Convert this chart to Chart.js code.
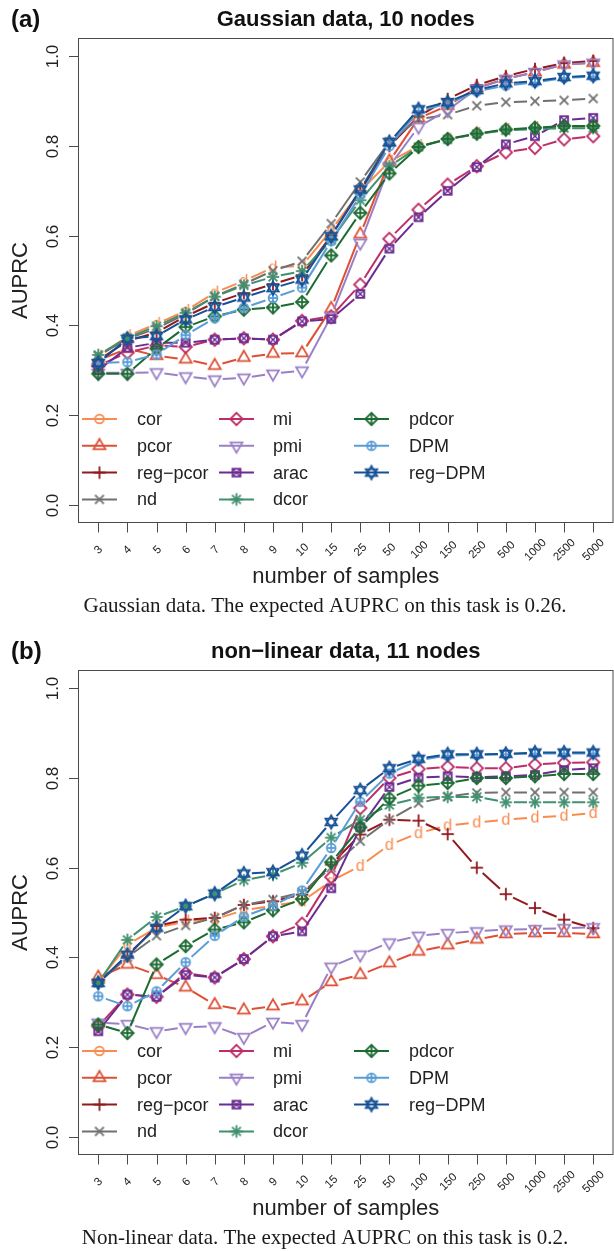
<!DOCTYPE html>
<html>
<head>
<meta charset="utf-8">
<script src="https://cdn.jsdelivr.net/npm/chart.js@4.4.1/dist/chart.umd.min.js"></script>
<style>
  html, body { margin: 0; padding: 0; background: #fff; overflow: hidden; width: 614px; height: 1251px; }
  .panel { position: absolute; left: 0; width: 620px; }
</style>
</head>
<body>
<div class="panel" style="top:0;height:632px"><canvas id="chartA" width="620" height="632"></canvas></div>
<div class="panel" style="top:632px;height:619px"><canvas id="chartB" width="620" height="619"></canvas></div>
<script>
// x categories and axis ticks
const sampleSizes = ['3', '4', '5', '6', '7', '8', '9', '10', '15', '25', '50', '100', '150', '250', '500', '1000', '2500', '5000'];
const yTicks = [0, 0.2, 0.4, 0.6, 0.8, 1.0];
const methods = ['cor', 'pcor', 'reg\u2212pcor', 'nd', 'mi', 'pmi', 'arac', 'dcor', 'pdcor', 'DPM', 'reg\u2212DPM'];

// (a) Gaussian data, 10 nodes
const gaussCor    = [0.330, 0.376, 0.403, 0.432, 0.473, 0.499, 0.529, 0.533, 0.612, 0.700, 0.765, 0.800, 0.815, 0.827, 0.836, 0.840, 0.843, 0.843];
const gaussPcor   = [0.322, 0.348, 0.332, 0.324, 0.310, 0.328, 0.337, 0.338, 0.437, 0.603, 0.766, 0.862, 0.890, 0.930, 0.950, 0.965, 0.982, 0.986];
const gaussRegPcor= [0.322, 0.365, 0.384, 0.420, 0.450, 0.472, 0.492, 0.512, 0.600, 0.700, 0.800, 0.866, 0.905, 0.936, 0.956, 0.972, 0.985, 0.990];
const gaussNd     = [0.332, 0.370, 0.393, 0.425, 0.465, 0.492, 0.522, 0.543, 0.627, 0.720, 0.810, 0.860, 0.870, 0.890, 0.898, 0.900, 0.902, 0.906];
const gaussMi     = [0.310, 0.339, 0.355, 0.352, 0.368, 0.371, 0.368, 0.410, 0.420, 0.491, 0.593, 0.658, 0.714, 0.755, 0.786, 0.796, 0.815, 0.822];
const gaussPmi    = [0.294, 0.294, 0.295, 0.286, 0.279, 0.283, 0.292, 0.299, 0.420, 0.584, 0.755, 0.843, 0.880, 0.928, 0.950, 0.965, 0.982, 0.986];
const gaussArac   = [0.300, 0.350, 0.361, 0.361, 0.368, 0.371, 0.368, 0.409, 0.414, 0.470, 0.571, 0.641, 0.700, 0.753, 0.804, 0.822, 0.858, 0.863];
const gaussDcor   = [0.334, 0.372, 0.398, 0.428, 0.464, 0.489, 0.508, 0.521, 0.590, 0.679, 0.755, 0.798, 0.815, 0.827, 0.835, 0.838, 0.840, 0.840];
const gaussPdcor  = [0.292, 0.292, 0.348, 0.396, 0.420, 0.435, 0.440, 0.452, 0.556, 0.651, 0.739, 0.798, 0.816, 0.828, 0.837, 0.841, 0.845, 0.845];
const gaussDpm    = [0.316, 0.318, 0.335, 0.378, 0.416, 0.439, 0.461, 0.484, 0.588, 0.690, 0.800, 0.878, 0.895, 0.922, 0.935, 0.942, 0.952, 0.955];
const gaussRegDpm = [0.316, 0.370, 0.376, 0.413, 0.441, 0.462, 0.483, 0.502, 0.599, 0.703, 0.809, 0.882, 0.898, 0.925, 0.940, 0.945, 0.954, 0.957];

// (b) non-linear data, 11 nodes
const nlCor    = [0.345, 0.428, 0.466, 0.480, 0.485, 0.505, 0.515, 0.525, 0.570, 0.604, 0.651, 0.677, 0.694, 0.701, 0.707, 0.712, 0.716, 0.722];
const nlPcor   = [0.355, 0.384, 0.361, 0.333, 0.294, 0.282, 0.291, 0.302, 0.345, 0.361, 0.387, 0.413, 0.427, 0.440, 0.452, 0.454, 0.454, 0.452];
const nlRegPcor= [0.343, 0.402, 0.470, 0.484, 0.488, 0.517, 0.525, 0.540, 0.607, 0.674, 0.707, 0.705, 0.675, 0.600, 0.541, 0.510, 0.484, 0.465];
const nlNd     = [0.343, 0.400, 0.448, 0.471, 0.488, 0.517, 0.529, 0.545, 0.600, 0.659, 0.707, 0.744, 0.759, 0.767, 0.768, 0.768, 0.768, 0.768];
const nlMi     = [0.246, 0.317, 0.312, 0.365, 0.355, 0.396, 0.447, 0.475, 0.579, 0.733, 0.800, 0.820, 0.825, 0.822, 0.822, 0.830, 0.834, 0.835];
const nlPmi    = [0.254, 0.251, 0.235, 0.244, 0.246, 0.222, 0.256, 0.251, 0.379, 0.406, 0.433, 0.448, 0.454, 0.458, 0.462, 0.463, 0.465, 0.467];
const nlArac   = [0.235, 0.317, 0.312, 0.361, 0.355, 0.396, 0.447, 0.458, 0.554, 0.690, 0.780, 0.801, 0.804, 0.802, 0.804, 0.807, 0.818, 0.822];
const nlDcor   = [0.343, 0.439, 0.490, 0.514, 0.542, 0.572, 0.584, 0.611, 0.667, 0.707, 0.740, 0.756, 0.758, 0.758, 0.746, 0.746, 0.746, 0.746];
const nlPdcor  = [0.250, 0.231, 0.384, 0.425, 0.462, 0.478, 0.505, 0.530, 0.612, 0.690, 0.755, 0.783, 0.789, 0.800, 0.800, 0.804, 0.809, 0.809];
const nlDpm    = [0.313, 0.291, 0.324, 0.389, 0.448, 0.491, 0.515, 0.549, 0.644, 0.747, 0.810, 0.840, 0.850, 0.852, 0.853, 0.855, 0.855, 0.855];
const nlRegDpm = [0.343, 0.406, 0.466, 0.514, 0.542, 0.587, 0.590, 0.627, 0.702, 0.773, 0.822, 0.843, 0.853, 0.853, 0.854, 0.857, 0.857, 0.857];

// look
const colors = ['#F98B4F', '#DD5035', '#901A1E', '#707070', '#BE2D68', '#9A7FC6', '#6B2C91', '#41906F', '#1C6B33', '#5A9DD6', '#165195'];
const plotMarkers = ['d', 'tri', 'plus', 'x', 'diamond', 'trid', 'sqx', 'ast', 'diaplus', 'circplus', 'david'];
const legendMarkers = ['circle', 'tri', 'plus', 'x', 'diamond', 'trid', 'sqx', 'ast', 'diaplus', 'circplus', 'david'];
const SANS = '"Liberation Sans", Arial, Helvetica, sans-serif';
const SERIF = '"Liberation Serif", "Times New Roman", serif';
const TXT = '#222';
const GAP = 8; // type="b" gap around each point

function makeMarker(kind, color) {
    const c = document.createElement('canvas');
    c.width = c.height = 20;
    const g = c.getContext('2d');
    g.translate(10, 10);
    g.strokeStyle = color;
    g.fillStyle = color;
    g.lineWidth = 1.8;
    const xc = 4.4;
    const seg = (x1, y1, x2, y2) => { g.beginPath(); g.moveTo(x1, y1); g.lineTo(x2, y2); g.stroke(); };
    const poly = (pts) => {
        g.beginPath();
        pts.forEach((p, i) => i ? g.lineTo(p[0], p[1]) : g.moveTo(p[0], p[1]));
        g.closePath();
        g.stroke();
    };
    const r2 = xc * Math.SQRT2;
    const tr = xc * 1.555, tw = xc * 1.347, tb = xc * 0.778;
    switch (kind) {
        case 'd':
            g.font = '16px ' + SANS;
            g.textAlign = 'center';
            g.textBaseline = 'middle';
            g.fillText('d', 0, 0.5);
            break;
        case 'circle':
            g.beginPath(); g.arc(0, 0, xc, 0, Math.PI * 2); g.stroke();
            break;
        case 'tri':
            poly([[0, -tr], [tw, tb], [-tw, tb]]);
            break;
        case 'trid':
            poly([[0, tr], [tw, -tb], [-tw, -tb]]);
            break;
        case 'plus':
            seg(-r2, 0, r2, 0); seg(0, -r2, 0, r2);
            break;
        case 'x':
            seg(-xc, -xc, xc, xc); seg(-xc, xc, xc, -xc);
            break;
        case 'diamond':
            poly([[0, -r2], [r2, 0], [0, r2], [-r2, 0]]);
            break;
        case 'sqx': {
            const h = xc * 0.9;
            poly([[-h, -h], [h, -h], [h, h], [-h, h]]);
            g.lineWidth = 1.4;
            seg(-h, -h, h, h); seg(-h, h, h, -h);
            break;
        }
        case 'ast':
            seg(-r2, 0, r2, 0); seg(0, -r2, 0, r2);
            seg(-xc, -xc, xc, xc); seg(-xc, xc, xc, -xc);
            break;
        case 'diaplus':
            poly([[0, -r2], [r2, 0], [0, r2], [-r2, 0]]);
            seg(-r2, 0, r2, 0); seg(0, -r2, 0, r2);
            break;
        case 'circplus':
            g.beginPath(); g.arc(0, 0, xc, 0, Math.PI * 2); g.stroke();
            seg(-xc, 0, xc, 0); seg(0, -xc, 0, xc);
            break;
        case 'david': {
            const r = xc * 1.3;
            poly([[0, -r * 1.15], [r, r * 0.58], [-r, r * 0.58]]);
            poly([[0, r * 1.15], [r, -r * 0.58], [-r, -r * 0.58]]);
            break;
        }
    }
    return c;
}

const plotMarkerImgs = plotMarkers.map((k, i) => makeMarker(k, colors[i]));
const legendMarkerImgs = legendMarkers.map((k, i) => makeMarker(k, colors[i]));

// leave a gap around every point on each segment, like R's type = "b"
function gapDash(ctx) {
    const len = Math.hypot(ctx.p1.x - ctx.p0.x, ctx.p1.y - ctx.p0.y);
    if (len <= 2 * GAP) return [0, len];
    return [0, GAP, len - 2 * GAP, GAP];
}

// R-style frame, axes, legend, titles
const rFrame = {
    id: 'rFrame',
    afterDraw(chart, args, opts) {
        const { ctx, chartArea: a, scales: { x, y } } = chart;
        const line = (x1, y1, x2, y2) => { ctx.beginPath(); ctx.moveTo(x1, y1); ctx.lineTo(x2, y2); ctx.stroke(); };
        ctx.save();
        ctx.strokeStyle = '#4a4a4a';
        ctx.lineWidth = 1;
        ctx.strokeRect(a.left, a.top, a.right - a.left, a.bottom - a.top);

        // y axis
        ctx.fillStyle = TXT;
        ctx.font = '17px ' + SANS;
        ctx.textAlign = 'center';
        ctx.textBaseline = 'middle';
        line(a.left, y.getPixelForValue(0), a.left, y.getPixelForValue(1));
        yTicks.forEach(t => {
            const py = Math.round(y.getPixelForValue(t)) + 0.5;
            line(a.left - 9.5, py, a.left, py);
            ctx.save();
            ctx.translate(53.5, py);
            ctx.rotate(-Math.PI / 2);
            ctx.fillText(t.toFixed(1), 0, 0);
            ctx.restore();
        });

        // x axis
        ctx.font = '11.5px ' + SANS;
        sampleSizes.forEach((s, i) => {
            const px = Math.round(x.getPixelForValue(i)) + 0.5;
            line(px, a.bottom, px, a.bottom + 10);
            ctx.save();
            ctx.translate(px, a.bottom + 27.5);
            ctx.rotate(-Math.PI / 4);
            ctx.fillText(s, 0, 0);
            ctx.restore();
        });

        // axis titles
        const mid = (a.left + a.right) / 2;
        ctx.font = '22px ' + SANS;
        ctx.fillText('number of samples', mid, 577);
        ctx.save();
        ctx.translate(21, (a.top + a.bottom) / 2);
        ctx.rotate(-Math.PI / 2);
        ctx.fillText('AUPRC', 0, 0);
        ctx.restore();

        // main title and panel letter
        ctx.fillStyle = '#111';
        ctx.font = 'bold 22px ' + SANS;
        ctx.fillText(opts.title, mid, 20);
        ctx.textAlign = 'left';
        ctx.font = 'bold 24px ' + SANS;
        ctx.fillText(opts.letter, 11, 20);

        // caption
        ctx.fillStyle = '#1a1a1a';
        ctx.textAlign = 'center';
        ctx.font = '21px ' + SERIF;
        ctx.fillText(opts.caption, 325, 606);

        // legend
        const cols = [{ x1: 82, x2: 117, tx: 137 }, { x1: 219, x2: 254, tx: 273 }, { x1: 354, x2: 389, tx: 409 }];
        ctx.font = '18px ' + SANS;
        ctx.textAlign = 'left';
        ctx.lineWidth = 2;
        methods.forEach((m, i) => {
            const col = cols[Math.floor(i / 4)];
            const ly = 419 + (i % 4) * 26.8;
            ctx.strokeStyle = colors[i];
            line(col.x1, ly, col.x2, ly);
            const img = legendMarkerImgs[i];
            ctx.drawImage(img, (col.x1 + col.x2) / 2 - img.width / 2, ly - img.height / 2);
            ctx.fillStyle = TXT;
            ctx.fillText(m, col.tx, ly + 1);
        });
        ctx.restore();
    }
};

function makePanel(canvasId, series, title, letter, caption) {
    const canvas = document.getElementById(canvasId);
    const h = canvas.height;
    return new Chart(canvas.getContext('2d'), {
        type: 'line',
        data: {
            datasets: series.map((vals, i) => ({
                label: methods[i],
                data: vals.map((v, j) => ({ x: j, y: v })),
                borderColor: colors[i],
                borderWidth: 2,
                fill: false,
                tension: 0,
                pointStyle: plotMarkerImgs[i],
                pointRadius: 5,
                order: series.length - i,
                segment: { borderDash: gapDash }
            }))
        },
        options: {
            responsive: false,
            animation: false,
            devicePixelRatio: 1,
            layout: { padding: { left: 78.5, top: 38.5, right: 1, bottom: h - 522.5 } },
            scales: {
                x: { type: 'linear', display: false, min: -0.68, max: 17.68 },
                y: { type: 'linear', display: false, min: -0.04, max: 1.04 }
            },
            plugins: {
                legend: { display: false },
                tooltip: { enabled: false },
                rFrame: { title, letter, caption }
            }
        },
        plugins: [rFrame]
    });
}

makePanel('chartA',
    [gaussCor, gaussPcor, gaussRegPcor, gaussNd, gaussMi, gaussPmi, gaussArac, gaussDcor, gaussPdcor, gaussDpm, gaussRegDpm],
    'Gaussian data, 10 nodes', '(a)',
    'Gaussian data. The expected AUPRC on this task is 0.26.');

makePanel('chartB',
    [nlCor, nlPcor, nlRegPcor, nlNd, nlMi, nlPmi, nlArac, nlDcor, nlPdcor, nlDpm, nlRegDpm],
    'non\u2212linear data, 11 nodes', '(b)',
    'Non-linear data. The expected AUPRC on this task is 0.2.');
</script>
</body>
</html>
